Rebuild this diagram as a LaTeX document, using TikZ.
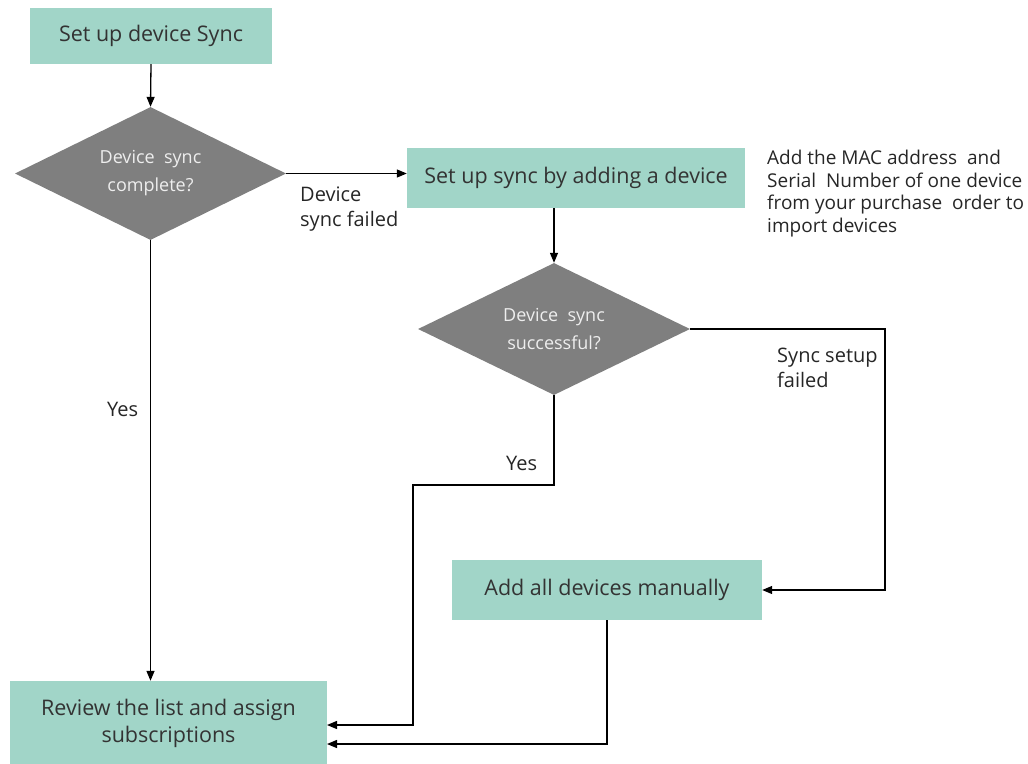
\documentclass[tikz,border=0pt]{standalone}
\usepackage{fontspec}
\setmainfont{Open Sans}
\usetikzlibrary{shapes.geometric,arrows.meta}
\definecolor{boxfill}{HTML}{A1D5C8}
\definecolor{boxtext}{HTML}{333333}
\definecolor{decfill}{HTML}{7F7F7F}
\definecolor{dectext}{HTML}{EEEEEE}
\begin{document}
\begin{tikzpicture}[x=1pt,y=-1pt,
  stepbox/.style={draw=none,fill=boxfill,text=boxtext,inner sep=0pt,align=center,
    font=\fontsize{21.5}{27}\selectfont},
  decision/.style={diamond,draw=none,fill=decfill,text=dectext,inner sep=0pt,
    aspect=2.04,align=center,font=\fontsize{18}{28}\selectfont},
  lbl/.style={anchor=north west,inner sep=0pt,align=left,text=black!85,
    font=\fontsize{20}{24.5}\selectfont},
  flow/.style={line width=1.3pt,-{Triangle[length=10pt,width=8pt]}},
  link/.style={line width=1.3pt}]
\useasboundingbox (0,0) rectangle (1028,763);

% process boxes
\node[stepbox,minimum width=242pt,minimum height=56pt] (setup) at (151,36) {Set up device Sync};
\node[stepbox,minimum width=338pt,minimum height=60pt] (adddev) at (576,178) {Set up sync by adding a device};
\node[stepbox,minimum width=310pt,minimum height=60pt] (manual) at (607,590) {Add all devices manually};
\node[stepbox,minimum width=317pt,minimum height=84pt] (review) at (168.5,723) {Review the list and assign\\subscriptions};

% decisions
\node[decision,minimum width=271pt,minimum height=133pt] (dec1) at (150.5,173.5) {Device\ \ sync\\complete?};
\node[decision,minimum width=272pt,minimum height=132pt] (dec2) at (554,329) {Device\ \ sync\\successful?};

% note beside the second step
\node[anchor=north west,inner sep=0pt,align=left,text=black!85,
  font=\fontsize{19}{22.6}\selectfont] (note) at (767,150)
  {Add the MAC address\ \ and\\Serial\ \ Number of one device\\from your purchase\ \ order to\\import devices};

% junction points
\coordinate (yesturn) at (413,485);
\coordinate (failturn) at (885,329);
\coordinate (revin1) at (327,725);
\coordinate (revin2) at (327,744);

% connectors
\draw[flow] (setup.south) -- (dec1.north);
\draw[flow] (dec1.east) -- (dec1.east -| adddev.west);
\draw[flow] (dec2.north |- adddev.south) -- (dec2.north);
\draw[flow] (dec1.south) -- (review.north -| dec1.south);
\draw[flow] (dec2.east) -- (failturn) |- (manual.east);
\draw[flow] (dec2.south) |- (yesturn) |- (revin1);
\draw[flow] (manual.south) |- (revin2);

% connector labels
\node[lbl] (lfail) at (300,187) {Device\\sync failed};
\node[lbl] (lyes1) at (107,402) {Yes};
\node[lbl] (lyes2) at (506,456) {Yes};
\node[lbl] (lsetup) at (777,348) {Sync setup\\failed};
\end{tikzpicture}
\end{document}
